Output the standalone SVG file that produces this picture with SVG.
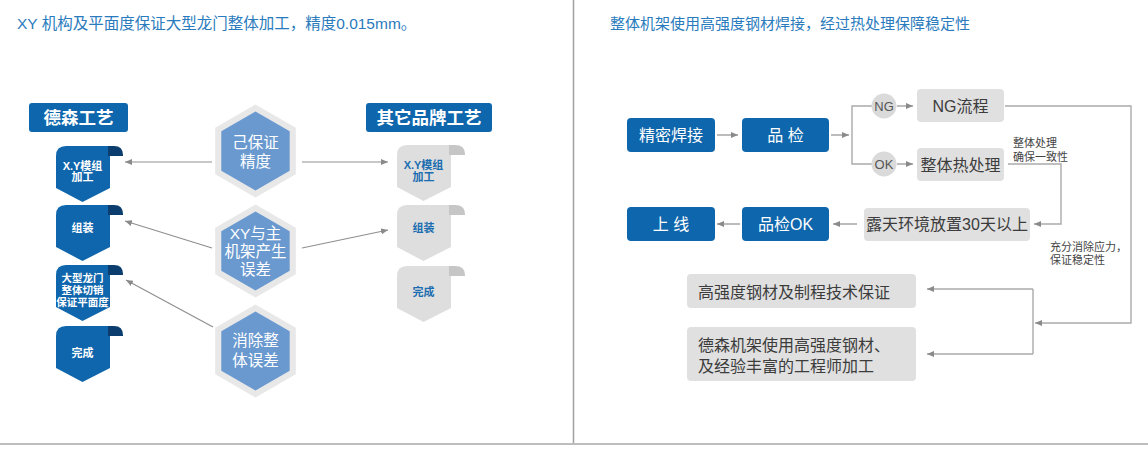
<svg xmlns="http://www.w3.org/2000/svg" xmlns:xlink="http://www.w3.org/1999/xlink" width="1148" height="451" viewBox="0 0 1148 451">
<style>
text{font-family:'Liberation Sans','Noto Sans CJK SC',sans-serif;}
.title{font-size:15.5px;fill:#2a7bbd;}
.hdr{fill:#0e67ad;}
.hdrT{font-size:17.5px;fill:#fff;font-weight:bold;text-anchor:middle;}
.bodyB{fill:#0f66ac;}
.curlB{fill:#0b3e6e;}
.bodyG{fill:#dedede;}
.curlG{fill:#c6c6c6;}
.shT{font-size:11px;fill:#fff;font-weight:bold;text-anchor:middle;}
.shTG{font-size:11px;fill:#1a6db0;font-weight:bold;text-anchor:middle;}
.hexO{fill:#e8e8e8;}
.hexI{fill:#6a99cf;}
.hexT{font-size:15.5px;fill:#fff;text-anchor:middle;}
.bbox{fill:#0e66ac;}
.gbox{fill:#e0e0e0;}
.bT{font-size:16px;fill:#fff;text-anchor:middle;}
.gT{font-size:16px;fill:#3c3c3c;}
.circ{fill:#dadada;}
.cT{font-size:13px;fill:#555;text-anchor:middle;}
.small{font-size:11px;fill:#444;}
.ln{fill:none;stroke:#8f8f8f;stroke-width:1.2;}
.ln2{fill:none;stroke:#aaaaaa;stroke-width:1.4;}
</style>
<defs>
<marker id="ah" markerUnits="userSpaceOnUse" markerWidth="8" markerHeight="6" refX="7" refY="3" orient="auto">
<path d="M0,0 L7,3 L0,6 Z" fill="#8a8a8a"/>
</marker>
<g id="shB">
<path class="bodyB" d="M0,42 V10 Q0,0 10,0 H54 V42 L26.5,56 Z"/>
<path class="curlB" d="M52,10 V0 H58 Q67,0 67,9 V10 Z"/>
</g>
<g id="shG">
<path class="bodyG" d="M0,42 V10 Q0,0 10,0 H54 V42 L26.5,56 Z"/>
<path class="curlG" d="M52,10 V0 H58 Q68,0 68,9 V10 Z"/>
</g>
</defs>

<rect width="1148" height="451" fill="#fff"/>

<!-- frame -->
<line x1="573.5" y1="0" x2="573.5" y2="444" stroke="#a0a0a0" stroke-width="1.5"/>
<line x1="0" y1="444" x2="1148" y2="444" stroke="#bdbdbd" stroke-width="2"/>

<text class="title" x="17" y="29">XY 机构及平面度保证大型龙门整体加工，精度0.015mm。</text>
<text class="title" x="610" y="29" style="font-size:15px">整体机架使用高强度钢材焊接，经过热处理保障稳定性</text>

<!-- connectors -->
<g id="connectors">
<line class="ln" x1="212" y1="162" x2="125" y2="162" marker-end="url(#ah)"/>
<line class="ln" x1="212" y1="248" x2="125" y2="221" marker-end="url(#ah)"/>
<line class="ln" x1="213" y1="327" x2="126" y2="280" marker-end="url(#ah)"/>
<line class="ln" x1="302" y1="162" x2="388" y2="162" marker-end="url(#ah)"/>
<line class="ln" x1="302" y1="248" x2="388" y2="230" marker-end="url(#ah)"/>

<line class="ln" x1="717" y1="135" x2="738" y2="135" marker-end="url(#ah)"/>
<line class="ln" x1="831" y1="135" x2="849" y2="135" marker-end="url(#ah)"/>
<path class="ln2" d="M872,106 H852 V164 H872"/>
<line class="ln" x1="897" y1="106" x2="913" y2="106" marker-end="url(#ah)"/>
<line class="ln" x1="897" y1="164" x2="913" y2="164" marker-end="url(#ah)"/>
<path class="ln2" d="M1005,106 H1131 V323 H1035" marker-end="url(#ah)"/>
<path class="ln2" d="M1008,164 H1061 V224 H1034" marker-end="url(#ah)"/>
<line class="ln" x1="857" y1="224" x2="833" y2="224" marker-end="url(#ah)"/>
<line class="ln" x1="740" y1="224" x2="717" y2="224" marker-end="url(#ah)"/>
<path class="ln2" d="M1033,289 V354"/>
<line class="ln2" x1="1033" y1="289" x2="927" y2="289" marker-end="url(#ah)"/>
<line class="ln2" x1="1033" y1="354" x2="927" y2="354" marker-end="url(#ah)"/>
</g>

<!-- left panel headers -->
<g id="hdr-desen">
<rect class="hdr" x="29" y="103" width="99" height="29" rx="3"/>
<text class="hdrT" x="78.5" y="123.5">德森工艺</text>
</g>
<g id="hdr-other">
<rect class="hdr" x="366" y="103" width="126" height="29" rx="3"/>
<text class="hdrT" x="429" y="123.5">其它品牌工艺</text>
</g>

<!-- left shields -->
<g id="ds-xy">
<use href="#shB" x="56" y="146"/>
<text class="shT" x="82.5" y="169.5">X.Y模组</text>
<text class="shT" x="82.5" y="181">加工</text>
</g>
<g id="ds-assemble">
<use href="#shB" x="56" y="205"/>
<text class="shT" x="82.5" y="232">组装</text>
</g>
<g id="ds-gantry">
<use href="#shB" x="56" y="265"/>
<text class="shT" x="82.5" y="282" style="font-size:10.5px">大型龙门</text>
<text class="shT" x="82.5" y="294" style="font-size:10.5px">整体切销</text>
<text class="shT" x="82.5" y="305.5" style="font-size:10.5px">保证平面度</text>
</g>
<g id="ds-done">
<use href="#shB" x="56" y="326"/>
<text class="shT" x="82.5" y="357">完成</text>
</g>

<!-- right shields -->
<g id="ot-xy">
<use href="#shG" x="397" y="145"/>
<text class="shTG" x="423.5" y="169">X.Y模组</text>
<text class="shTG" x="423.5" y="180.5">加工</text>
</g>
<g id="ot-assemble">
<use href="#shG" x="397" y="205"/>
<text class="shTG" x="423.5" y="232">组装</text>
</g>
<g id="ot-done">
<use href="#shG" x="397" y="266"/>
<text class="shTG" x="423.5" y="296">完成</text>
</g>

<!-- hexagons -->
<g id="hex-precision">
<polygon class="hexO" points="255.5,104.5 295.8,127.75 295.8,174.25 255.5,197.5 215.2,174.25 215.2,127.75"/>
<polygon class="hexI" points="255.5,111.5 289.7,131.25 289.7,170.75 255.5,190.5 221.3,170.75 221.3,131.25"/>
<text class="hexT" x="255.5" y="147.5">己保证</text>
<text class="hexT" x="255.5" y="166.5">精度</text>
</g>
<g id="hex-error">
<polygon class="hexO" points="255.5,204.5 295.8,227.75 295.8,274.25 255.5,297.5 215.2,274.25 215.2,227.75"/>
<polygon class="hexI" points="255.5,211.5 289.7,231.25 289.7,270.75 255.5,290.5 221.3,270.75 221.3,231.25"/>
<text class="hexT" x="255.5" y="238.5">XY与主</text>
<text class="hexT" x="255.5" y="256.5">机架产生</text>
<text class="hexT" x="255.5" y="274.5">误差</text>
</g>
<g id="hex-eliminate">
<polygon class="hexO" points="255.5,304.5 295.8,327.75 295.8,374.25 255.5,397.5 215.2,374.25 215.2,327.75"/>
<polygon class="hexI" points="255.5,311.5 289.7,331.25 289.7,370.75 255.5,390.5 221.3,370.75 221.3,331.25"/>
<text class="hexT" x="255.5" y="345.5">消除整</text>
<text class="hexT" x="255.5" y="365.5">体误差</text>
</g>

<!-- right panel -->
<g id="n-weld">
<rect class="bbox" x="627" y="118" width="88" height="34" rx="4"/>
<text class="bT" x="671" y="141">精密焊接</text>
</g>
<g id="n-qc">
<rect class="bbox" x="742" y="118" width="87" height="34" rx="4"/>
<text class="bT" x="785.5" y="141">品 检</text>
</g>
<g id="n-ng">
<circle class="circ" cx="884" cy="106" r="12.5"/>
<text class="cT" x="884" y="110.5">NG</text>
</g>
<g id="n-ok">
<circle class="circ" cx="884" cy="164" r="12.5"/>
<text class="cT" x="884" y="168.5">OK</text>
</g>
<g id="n-ngflow">
<rect class="gbox" x="917" y="89" width="87" height="33" rx="4"/>
<text class="gT" x="960.5" y="111.5" text-anchor="middle">NG流程</text>
</g>
<g id="n-heat">
<rect class="gbox" x="917" y="148" width="87" height="33" rx="4"/>
<text class="gT" x="960.5" y="170.5" text-anchor="middle">整体热处理</text>
</g>
<g id="note-heat">
<text class="small" x="1013" y="147">整体处理</text>
<text class="small" x="1013" y="160.5">确保一致性</text>
</g>
<g id="n-outdoor">
<rect class="gbox" x="864" y="208" width="166" height="33" rx="4"/>
<text class="gT" x="947" y="230" text-anchor="middle">露天环境放置30天以上</text>
</g>
<g id="note-stress">
<text class="small" x="1050" y="251">充分消除应力，</text>
<text class="small" x="1050" y="264">保证稳定性</text>
</g>
<g id="n-qcok">
<rect class="bbox" x="742" y="207" width="87" height="34" rx="4"/>
<text class="bT" x="785.5" y="230">品检OK</text>
</g>
<g id="n-online">
<rect class="bbox" x="627" y="207" width="88" height="34" rx="4"/>
<text class="bT" x="671" y="230">上 线</text>
</g>
<g id="n-steel">
<rect class="gbox" x="687" y="274" width="229" height="34" rx="4"/>
<text class="gT" x="698" y="297.5">高强度钢材及制程技术保证</text>
</g>
<g id="n-engineer">
<rect class="gbox" x="687" y="327" width="229" height="54" rx="4"/>
<text class="gT" x="698" y="350.5">德森机架使用高强度钢材、</text>
<text class="gT" x="698" y="371.5">及经验丰富的工程师加工</text>
</g>
</svg>
